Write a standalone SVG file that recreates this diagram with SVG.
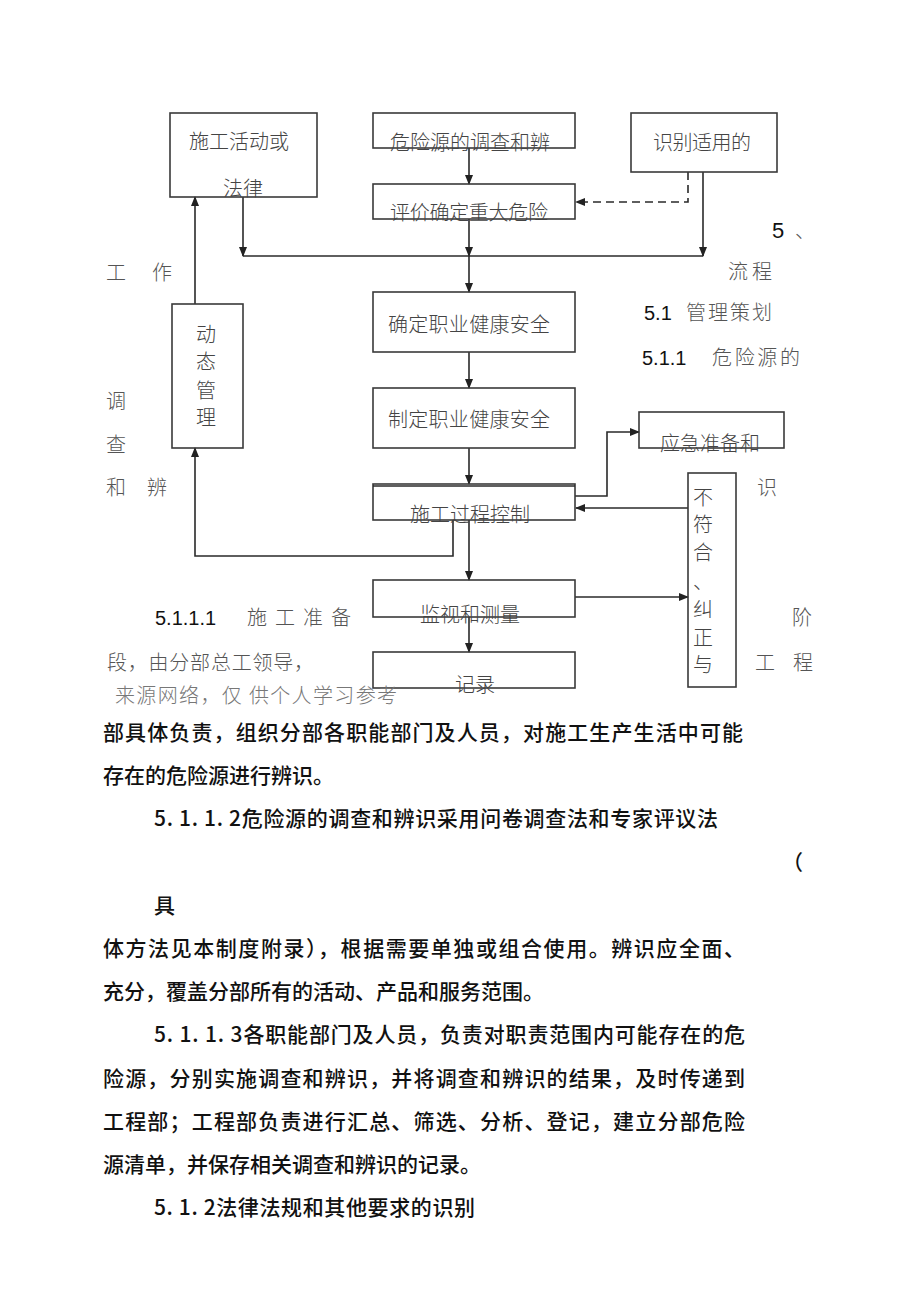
<svg xmlns="http://www.w3.org/2000/svg" width="920" height="1301" viewBox="0 0 920 1301">
<style>
.box{fill:none;stroke:#3a3a3a;stroke-width:1.6}
.ln{fill:none;stroke:#2a2a2a;stroke-width:1.6}
.dash{fill:none;stroke:#2a2a2a;stroke-width:1.6;stroke-dasharray:8,5}
.bt{font-family:"Noto Sans CJK SC","Noto Sans",sans-serif;font-size:20px;fill:#444;font-weight:300}
.side{font-family:"Noto Sans CJK SC","Noto Sans",sans-serif;font-size:20px;fill:#555;font-weight:300}
.num{font-family:"Liberation Sans",Arial,sans-serif;font-size:20px;fill:#111}
.body{font-family:"Noto Sans CJK SC","Noto Sans",sans-serif;font-size:21px;fill:#111;font-weight:500}
.gray{font-family:"Noto Sans CJK SC","Noto Sans",sans-serif;font-size:20px;fill:#777;font-weight:300}
</style>
<defs>
<marker id="arr" markerWidth="10" markerHeight="8" refX="9" refY="4" orient="auto" markerUnits="userSpaceOnUse">
<path d="M0,0 L10,4 L0,8 Z" fill="#222"/>
</marker>
</defs>
<rect width="920" height="1301" fill="#fff"/>

<g id="connectors">
<line class="ln" x1="469" y1="148" x2="469" y2="184" marker-end="url(#arr)"/>
<line class="ln" x1="469" y1="219" x2="469" y2="256" marker-end="url(#arr)"/>
<line class="ln" x1="469" y1="256" x2="469" y2="292" marker-end="url(#arr)"/>
<line class="ln" x1="469" y1="352" x2="469" y2="388" marker-end="url(#arr)"/>
<line class="ln" x1="469" y1="448" x2="469" y2="484" marker-end="url(#arr)"/>
<line class="ln" x1="469" y1="520" x2="469" y2="580" marker-end="url(#arr)"/>
<line class="ln" x1="469" y1="617" x2="469" y2="652" marker-end="url(#arr)"/>
<line class="ln" x1="243" y1="197" x2="243" y2="256" marker-end="url(#arr)"/>
<line class="ln" x1="703" y1="172" x2="703" y2="256" marker-end="url(#arr)"/>
<line class="ln" x1="243" y1="256" x2="703" y2="256"/>
<polyline class="dash" points="688,172 688,202 576,202" marker-end="url(#arr)"/>
<line class="ln" x1="195" y1="304" x2="195" y2="197" marker-end="url(#arr)"/>
<polyline class="ln" points="453,520 453,556 195,556 195,448" marker-end="url(#arr)"/>
<polyline class="ln" points="575,496 607,496 607,432 639,432" marker-end="url(#arr)"/>
<line class="ln" x1="688" y1="508" x2="576" y2="508" marker-end="url(#arr)"/>
<line class="ln" x1="575" y1="597" x2="688" y2="597" marker-end="url(#arr)"/>
</g>

<g id="n-shigong">
<rect class="box" x="170" y="113" width="147" height="84"/>
<text class="bt" x="239" y="149" text-anchor="middle" textLength="100">施工活动或</text>
<text class="bt" x="243" y="196" text-anchor="middle">法律</text>
</g>
<g id="n-weixianyuan">
<rect class="box" x="373" y="113" width="202" height="35"/>
<text class="bt" x="470" y="150" text-anchor="middle" textLength="160">危险源的调查和辨</text>
</g>
<g id="n-pingjia">
<rect class="box" x="373" y="184" width="202" height="35"/>
<text class="bt" x="469" y="220" text-anchor="middle" textLength="158">评价确定重大危险</text>
</g>
<g id="n-shibie">
<rect class="box" x="631" y="113" width="146" height="59"/>
<text class="bt" x="702" y="150" text-anchor="middle" textLength="98">识别适用的</text>
</g>
<g id="n-queding">
<rect class="box" x="373" y="292" width="202" height="60"/>
<text class="bt" x="469" y="332" text-anchor="middle" textLength="162">确定职业健康安全</text>
</g>
<g id="n-zhiding">
<rect class="box" x="373" y="388" width="202" height="60"/>
<text class="bt" x="469" y="427" text-anchor="middle" textLength="162">制定职业健康安全</text>
</g>
<g id="n-kongzhi">
<rect class="box" x="373" y="484" width="202" height="36"/>
<line class="ln" x1="373" y1="486" x2="575" y2="486"/>
<text class="bt" x="470" y="522" text-anchor="middle" textLength="120">施工过程控制</text>
</g>
<g id="n-yingji">
<rect class="box" x="639" y="412" width="145" height="36"/>
<text class="bt" x="710" y="451" text-anchor="middle" textLength="100">应急准备和</text>
</g>
<g id="n-dongtai">
<rect class="box" x="172" y="304" width="71" height="144"/>
<text class="bt" x="206" y="342" text-anchor="middle">动</text>
<text class="bt" x="206" y="369" text-anchor="middle">态</text>
<text class="bt" x="206" y="398" text-anchor="middle">管</text>
<text class="bt" x="206" y="425" text-anchor="middle">理</text>
</g>
<g id="n-bufuhe">
<rect class="box" x="688" y="473" width="48" height="214"/>
<text class="bt" x="703" y="505" text-anchor="middle">不</text>
<text class="bt" x="703" y="532" text-anchor="middle">符</text>
<text class="bt" x="703" y="560" text-anchor="middle">合</text>
<text class="bt" x="703" y="589" text-anchor="middle">、</text>
<text class="bt" x="703" y="617" text-anchor="middle">纠</text>
<text class="bt" x="703" y="645" text-anchor="middle">正</text>
<text class="bt" x="703" y="672" text-anchor="middle">与</text>
</g>
<g id="n-jianshi">
<rect class="box" x="373" y="580" width="202" height="37"/>
<text class="bt" x="470" y="622" text-anchor="middle" textLength="100">监视和测量</text>
</g>
<g id="n-jilu">
<rect class="box" x="373" y="652" width="202" height="36"/>
<text class="bt" x="475" y="692" text-anchor="middle">记录</text>
</g>

<g id="side-text">
<text class="side" x="116" y="280" text-anchor="middle">工</text>
<text class="side" x="162" y="280" text-anchor="middle">作</text>
<text class="side" x="116" y="409" text-anchor="middle">调</text>
<text class="side" x="116" y="452" text-anchor="middle">查</text>
<text class="side" x="116" y="495" text-anchor="middle">和</text>
<text class="side" x="157" y="495" text-anchor="middle">辨</text>
<text class="num" x="772" y="238" style="font-size:22px">5</text>
<text class="side" x="795" y="238">、</text>
<text class="side" x="728" y="279" textLength="44">流程</text>
<text class="num" x="644" y="320">5.1</text>
<text class="side" x="686" y="320" textLength="86">管理策划</text>
<text class="num" x="642" y="365">5.1.1</text>
<text class="side" x="712" y="365" textLength="88">危险源的</text>
<text class="side" x="767" y="495" text-anchor="middle">识</text>
<text class="num" x="155" y="625">5.1.1.1</text>
<text class="side" x="247" y="625" textLength="104">施工准备</text>
<text class="side" x="802" y="625" text-anchor="middle">阶</text>
<text class="side" x="107" y="670" textLength="207">段，由分部总工领导，</text>
<text class="side" x="765" y="670" text-anchor="middle">工</text>
<text class="side" x="803" y="670" text-anchor="middle">程</text>
<text class="gray" x="115" y="703" textLength="282">来源网络，仅  供个人学习参考</text>
</g>

<g id="body-text">
<text class="body" x="103" y="740" textLength="640">部具体负责，组织分部各职能部门及人员，对施工生产生活中可能</text>
<text class="body" x="103" y="783">存在的危险源进行辨识。</text>
<text class="body" x="154" y="826" textLength="564">5. 1. 1. 2危险源的调查和辨识采用问卷调查法和专家评议法</text>
<text class="body" x="782" y="870">（</text>
<text class="body" x="154" y="913">具</text>
<text class="body" x="103" y="956" textLength="642">体方法见本制度附录），根据需要单独或组合使用。辨识应全面、</text>
<text class="body" x="103" y="999">充分，覆盖分部所有的活动、产品和服务范围。</text>
<text class="body" x="154" y="1042" textLength="591">5. 1. 1. 3各职能部门及人员，负责对职责范围内可能存在的危</text>
<text class="body" x="103" y="1086" textLength="642">险源，分别实施调查和辨识，并将调查和辨识的结果，及时传递到</text>
<text class="body" x="103" y="1129" textLength="642">工程部；工程部负责进行汇总、筛选、分析、登记，建立分部危险</text>
<text class="body" x="103" y="1172">源清单，并保存相关调查和辨识的记录。</text>
<text class="body" x="154" y="1215" textLength="321">5. 1. 2法律法规和其他要求的识别</text>
</g>
</svg>
